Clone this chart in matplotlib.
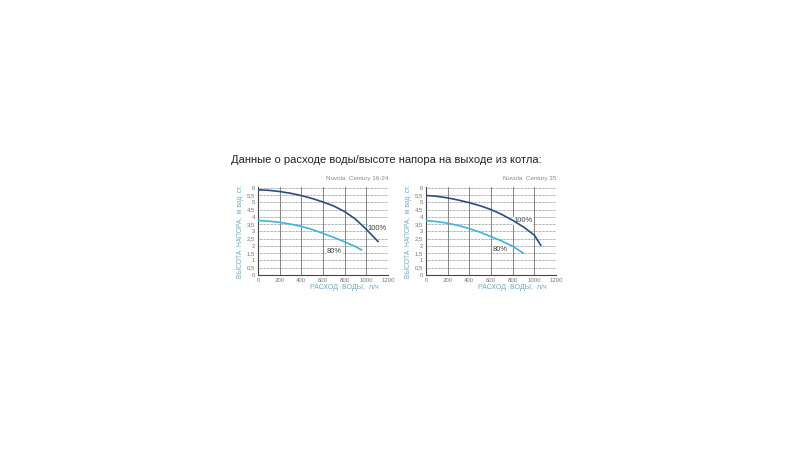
import matplotlib.pyplot as plt

plt.rcParams['font.family'] = ['Liberation Sans', 'DejaVu Sans']

# data (flow l/h, head m)
flow_a_100 = [0, 100, 200, 300, 400, 500, 600, 700, 800, 900, 1000, 1108]
head_a_100 = [5.86, 5.82, 5.74, 5.62, 5.46, 5.26, 5.02, 4.74, 4.36, 3.84, 3.14, 2.3]
flow_a_80 = [0, 100, 200, 300, 400, 500, 600, 700, 800, 900, 954]
head_a_80 = [3.75, 3.7, 3.62, 3.5, 3.34, 3.13, 2.86, 2.58, 2.28, 1.95, 1.73]

flow_b_100 = [0, 100, 200, 300, 400, 500, 600, 700, 800, 900, 1000, 1059]
head_b_100 = [5.47, 5.41, 5.3, 5.15, 4.97, 4.76, 4.5, 4.16, 3.76, 3.3, 2.74, 2.05]
flow_b_80 = [0, 100, 200, 300, 400, 500, 600, 700, 800, 899]
head_b_80 = [3.75, 3.67, 3.56, 3.4, 3.19, 2.94, 2.64, 2.33, 1.98, 1.5]

x_ticks = [0, 200, 400, 600, 800, 1000, 1200]
y_ticks = [0, 0.5, 1, 1.5, 2, 2.5, 3, 3.5, 4, 4.5, 5, 5.5, 6]
y_tick_labels = ['0', '0,5', '1', '1,5', '2', '2,5', '3', '3,5', '4', '4,5', '5', '5,5', '6']

title = 'Данные о расходе воды/высоте напора на выходе из котла:'
models = ['Nuvola  Century 16-24', 'Nuvola  Century 35']

DARK = '#2b4d7e'
LIGHT = '#3fb4dc'
LABEL_C = '#6fa9c4'
TICK_C = '#777777'

fig = plt.figure(figsize=(8, 4.5), dpi=100)
fig.patch.set_facecolor('white')
fig.text(231 / 800, 1 - 160 / 450, title, fontsize=8.0, color='#222222',
         ha='left', va='center')


def draw(ax, model, f100, h100, f80, h80, pos100, pos80):
    ax.set_xlim(0, 1200)
    ax.set_ylim(0, 6.05)
    for x in x_ticks[1:]:
        ax.axvline(x, color='#555555', lw=0.5, zorder=1)
    for y in y_ticks[1:]:
        ax.axhline(y, color='#666666', lw=0.5, ls=(0, (1, 1)), zorder=1)
    ax.plot(f100, h100, color=DARK, lw=1.2, zorder=3)
    ax.plot(f80, h80, color=LIGHT, lw=1.2, zorder=3)
    box = dict(facecolor='white', edgecolor='none', pad=0.3)
    ax.text(pos100[0], pos100[1], '100%', fontsize=5.5, color='#444444',
            va='center', bbox=box, zorder=2)
    ax.text(pos80[0], pos80[1], '80%', fontsize=5.5, color='#444444',
            va='center', bbox=box, zorder=2)

    ax.set_xticks(x_ticks)
    ax.set_yticks(y_ticks)
    ax.set_yticklabels(y_tick_labels)
    ax.tick_params(length=0, labelsize=4.3, colors=TICK_C, pad=2)
    for s in ['top', 'right']:
        ax.spines[s].set_visible(False)
    ax.spines['left'].set_color('#444444')
    ax.spines['bottom'].set_color('#444444')
    ax.spines['left'].set_linewidth(0.8)
    ax.spines['bottom'].set_linewidth(0.8)

    ax.set_ylabel('ВЫСОТА  НАПОРА,  м вод. ст.', fontsize=4.8, color=LABEL_C,
                  labelpad=2)
    ax.set_xlabel('РАСХОД  ВОДЫ,  л/ч', fontsize=5, color=LABEL_C, labelpad=1)
    ax.xaxis.set_label_coords(0.93, -0.1)
    ax.xaxis.label.set_ha('right')
    ax.text(1.0, 1.07, model, transform=ax.transAxes, ha='right', va='bottom',
            fontsize=4.5, color='#888888')


ax1 = fig.add_axes([258 / 800, 1 - 275 / 450, 130 / 800, 88 / 450])
draw(ax1, models[0], flow_a_100, head_a_100, flow_a_80, head_a_80,
     (1015, 3.23), (637, 1.6))

ax2 = fig.add_axes([426 / 800, 1 - 275 / 450, 130 / 800, 88 / 450])
draw(ax2, models[1], flow_b_100, head_b_100, flow_b_80, head_b_80,
     (810, 3.72), (618, 1.75))

fig.savefig('out.png', dpi=100, facecolor='white')
